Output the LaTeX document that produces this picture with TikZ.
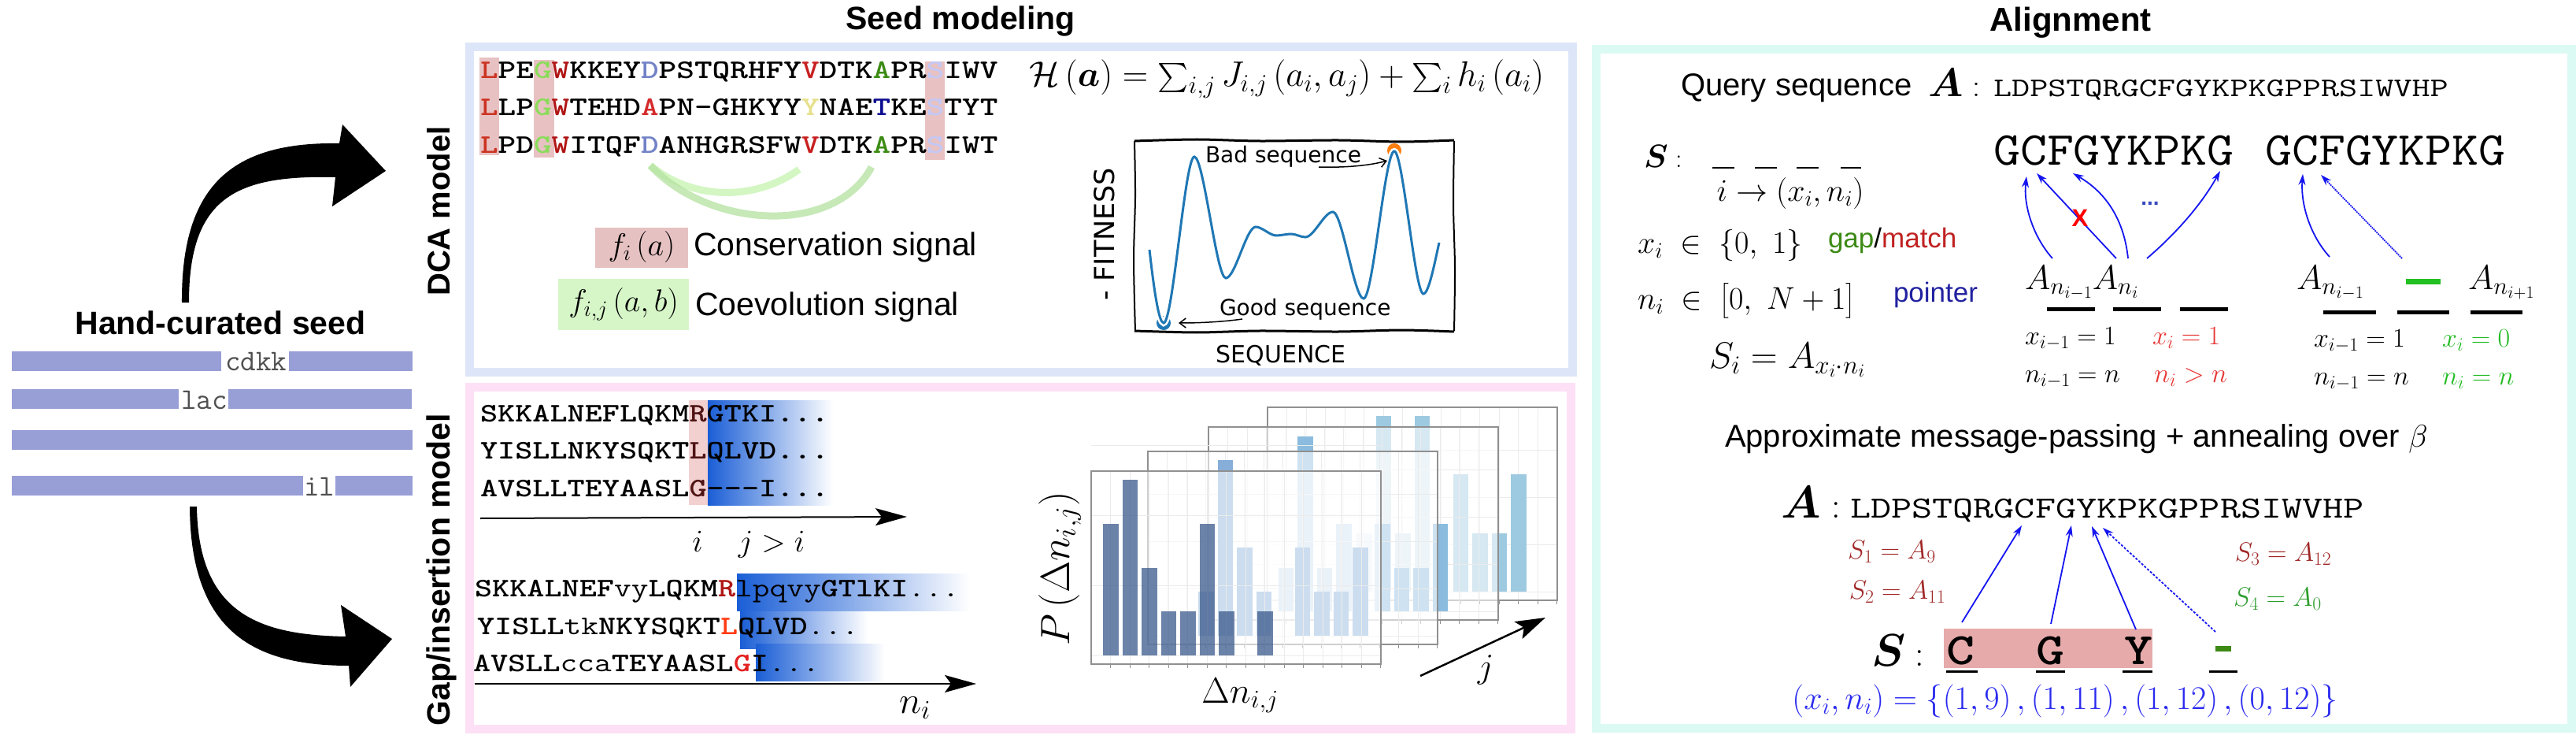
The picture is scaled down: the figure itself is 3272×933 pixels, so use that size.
\RequirePackage{fix-cm}
\documentclass[tikz,border=0pt]{standalone}
\usepackage{exscale}
\usepackage{amsmath}
\usepackage{graphicx}
\usepackage{fontspec}
\usetikzlibrary{arrows.meta}
\newfontfamily\lsans{Liberation Sans}
\newfontfamily\djv{DejaVu Sans}
\newcommand\fsz[1]{\fontsize{#1}{#1}\selectfont}
\newcommand\bigsum{\mathop{\vcenter{\hbox{\scalebox{3.7}{\fontsize{10}{10}\selectfont$\sum$}}}}\nolimits}
\definecolor{dcab}{HTML}{DDE6F9}
\definecolor{gapb}{HTML}{FDE0F5}
\definecolor{alnb}{HTML}{DCFAF4}
\definecolor{seedc}{HTML}{989ED6}
\definecolor{seedt}{HTML}{505050}
\definecolor{hlpink}{HTML}{E8C2C2}
\definecolor{cL}{HTML}{CC3322}
\definecolor{cG}{HTML}{8ADC5A}
\definecolor{cW}{HTML}{B01515}
\definecolor{cD}{HTML}{7282C6}
\definecolor{cV}{HTML}{C82020}
\definecolor{cA}{HTML}{3C8C14}
\definecolor{cS}{HTML}{C4C8F6}
\definecolor{cAr}{HTML}{D42A2A}
\definecolor{cY}{HTML}{E6E08A}
\definecolor{cT}{HTML}{0A0A90}
\definecolor{arcA}{HTML}{CCF5B8}
\definecolor{arcB}{HTML}{B4E2A0}
\definecolor{fibox}{HTML}{E6C1C1}
\definecolor{fijbox}{HTML}{D6F6C8}
\definecolor{mplblue}{HTML}{1F77B4}
\definecolor{mplorange}{HTML}{FF7F0E}
\definecolor{gblue}{HTML}{1A5ED6}
\definecolor{gpink}{HTML}{F2D0D0}
\definecolor{hr}{HTML}{501414}
\definecolor{rA}{HTML}{B01818}
\definecolor{rB}{HTML}{FF3A10}
\definecolor{rC}{HTML}{E42020}
\definecolor{fAc}{HTML}{3A5A8C}
\definecolor{fBc}{HTML}{86AED9}
\definecolor{fCc}{HTML}{8BBCDF}
\definecolor{fDc}{HTML}{9ECAE1}
\definecolor{gridc}{HTML}{EBEBEB}
\definecolor{framec}{HTML}{909090}
\definecolor{abl}{HTML}{1515F0}
\definecolor{gapg}{HTML}{3C8A14}
\definecolor{matchr}{HTML}{C02222}
\definecolor{ptrb}{HTML}{2222A0}
\definecolor{eqr}{HTML}{E83535}
\definecolor{eqg}{HTML}{22BB22}
\definecolor{dashg}{HTML}{22C022}
\definecolor{sred}{HTML}{A02828}
\definecolor{sgreen}{HTML}{2E9E2E}
\definecolor{cgyb}{HTML}{E6AAAA}
\definecolor{dotc}{HTML}{3A4AC0}
\definecolor{xblue}{HTML}{2A2AF0}
\tikzset{
  aarrow/.style={abl, line width=1.8pt, -{Stealth[length=14pt,width=9pt]}},
  bigtip/.style={line width=2pt, -{Stealth[length=40pt,width=22pt,inset=8pt]}},
  xkcdarrow/.style={line width=1.5pt, -{Straight Barb[length=8pt,width=12pt]}},
}
\newcommand\barframe[5]{%
 \fill[white,fill opacity=.58] (#1,#2) rectangle ++(368,245);
 \foreach \k in {0,...,14} \draw[gridc, line width=1pt] ({#1+24.75+24.5*\k},#2) -- ++(0,245);
 \foreach \j in {0,1,2,3} \draw[gridc, line width=1pt] (#1,{#2+234-\j*#3}) -- ++(368,0);
 \foreach \k/\t in {#5} \fill[#4] ({#1+15+24.5*\k},\t) rectangle ({#1+34.5+24.5*\k},{#2+234});
 \draw[framec, line width=1.5pt] (#1,#2) rectangle ++(368,245);
 \foreach \k in {0,...,14} \draw[framec, line width=1pt] ({#1+24.75+24.5*\k},{#2+245}) -- ++(0,5);
}
\begin{document}
\begin{tikzpicture}[x=1pt,y=-1pt, every node/.style={inner sep=0pt, outer sep=0pt}]
\useasboundingbox (0,0) rectangle (3272,933);
\fill[white] (0,0) rectangle (3272,933);

% ---------- titles ----------
\node[anchor=base, font=\lsans\bfseries\fsz{41}] (tseed) at (1220,38) {Seed modeling};
\node[anchor=base, font=\lsans\bfseries\fsz{42}] (taln) at (2630,40) {Alignment};

% ---------- panel frames ----------
\draw[dcab, line width=11pt] (596,60) rectangle (1997,472);
\draw[gapb, line width=11pt] (596,491) rectangle (1995,925);
\draw[alnb, line width=11pt] (2027,63) rectangle (3266,924);

\node[anchor=base, rotate=90, font=\lsans\bfseries\fsz{40}] (dcal) at (571,268) {DCA model};
\node[anchor=base, rotate=90, font=\lsans\bfseries\fsz{41}] (gapl) at (571,723) {Gap/insertion model};

% ---------- seed ----------
\node[anchor=base, font=\lsans\bfseries\fsz{41}] (seedt) at (280,424) {Hand-curated seed};
\fill[seedc] (15,446) rectangle (281,471);
\fill[seedc] (367,446) rectangle (524,471);
\node[anchor=base west, font=\ttfamily\fsz{38}, text=seedt] (s1) at (286,470) {cdkk};
\fill[seedc] (15,494) rectangle (227,519);
\fill[seedc] (290,494) rectangle (523,519);
\node[anchor=base west, font=\ttfamily\fsz{38}, text=seedt] (s2) at (230,519) {lac};
\fill[seedc] (15,546) rectangle (524,571);
\fill[seedc] (15,604) rectangle (385,629);
\fill[seedc] (426,604) rectangle (524,629);
\node[anchor=base west, font=\ttfamily\fsz{38}, text=seedt] (s4) at (386,629) {il};

% big curved arrows
\fill[black] (240,384) -- (231,384) .. controls (230,230) and (300,180) .. (431,182)
  -- (435,158) -- (490,217) -- (422,262) -- (426,225)
  .. controls (300,222) and (240,250) .. (240,384) -- cycle;
\fill[black] (241,643) .. controls (242,800) and (320,845) .. (443,845)
  -- (445,872) -- (498,811) -- (433,768) -- (439,808)
  .. controls (330,806) and (252,780) .. (250,643) -- cycle;

% ---------- DCA panel ----------
\fill[hlpink] (609,73) rectangle (634,197);
\fill[hlpink] (678,76) rectangle (704,200);
\fill[hlpink] (1175,78) rectangle (1200,203);
\node[anchor=base west] (d1) at (610,100) {\scalebox{1.27}[1]{\ttfamily\bfseries\fsz{34}\textcolor{cL}{L}PE\textcolor{cG}{G}\textcolor{cW}{W}KKEY\textcolor{cD}{D}PSTQRHFY\textcolor{cV}{V}DTK\textcolor{cA}{A}PR\textcolor{cS}{S}IWV}};
\node[anchor=base west] (d2) at (610,147) {\scalebox{1.27}[1]{\ttfamily\bfseries\fsz{34}\textcolor{cL}{L}LP\textcolor{cG}{G}\textcolor{cW}{W}TEHD\textcolor{cAr}{A}PN-GHKYY\textcolor{cY}{Y}NAE\textcolor{cT}{T}KE\textcolor{cS}{S}TYT}};
\node[anchor=base west] (d3) at (610,195) {\scalebox{1.27}[1]{\ttfamily\bfseries\fsz{34}\textcolor{cL}{L}PD\textcolor{cG}{G}\textcolor{cW}{W}ITQF\textcolor{cD}{D}ANHGRSFW\textcolor{cV}{V}DTK\textcolor{cA}{A}PR\textcolor{cS}{S}IWT}};
\coordinate (arcs) at (826,210);
\coordinate (arce1) at (1015,215);
\coordinate (arce2) at (1107,212);
\draw[arcA, line width=9pt, opacity=.85] (arcs) .. controls (880,255) and (960,255) .. (arce1);
\draw[arcB, line width=9pt, opacity=.75] (arcs) .. controls (900,290) and (1060,300) .. (arce2);

\fill[fibox] (756,289) rectangle (874,340);
\node[font=\fsz{40}] (fi) at (815,314) {$f_i\left(a\right)$};
\node[anchor=base west, font=\lsans\fsz{41}] (cons) at (881,325) {Conservation signal};
\fill[fijbox] (709,354) rectangle (875,419);
\node[font=\fsz{40}] (fij) at (792,386) {$f_{i,j}\left(a,b\right)$};
\node[anchor=base west, font=\lsans\fsz{41}] (coev) at (883,400) {Coevolution signal};

\node[anchor=base west, font=\fsz{45}] (ham) at (1307,110) {$\mathcal{H}\left(\boldsymbol{a}\right)=\bigsum_{i,j}J_{i,j}\left(a_i,a_j\right)+\bigsum_i h_i\left(a_i\right)$};

% fitness landscape
\draw[line width=3pt] plot[smooth] coordinates {(1441,179) (1520,177) (1600,179) (1700,178) (1780,180) (1847,178)};
\draw[line width=3pt] plot[smooth] coordinates {(1441,420) (1520,422) (1600,420) (1700,421) (1780,419) (1847,421)};
\draw[line width=2pt] plot[smooth] coordinates {(1441,179) (1442,250) (1440,330) (1442,420)};
\draw[line width=2pt] plot[smooth] coordinates {(1847,179) (1846,260) (1848,340) (1847,420)};
\fill[mplorange] (1771,191) circle (9);
\fill[mplblue] (1478,410) circle (9);
\draw[mplblue, line width=3pt, preaction={draw, white, line width=8pt}]
 (1460,317) .. controls (1466,370) and (1472,410) .. (1478,410)
 .. controls (1490,410) and (1505,199) .. (1517,199)
 .. controls (1529,199) and (1545,353) .. (1557,353)
 .. controls (1569,353) and (1583,288) .. (1595,288)
 .. controls (1603,288) and (1613,299) .. (1621,299)
 .. controls (1627,299) and (1634,297) .. (1640,297)
 .. controls (1646,297) and (1652,301) .. (1658,301)
 .. controls (1669,301) and (1682,269) .. (1693,269)
 .. controls (1705,269) and (1720,379) .. (1732,379)
 .. controls (1744,379) and (1759,192) .. (1771,192)
 .. controls (1782,192) and (1797,373) .. (1808,373)
 .. controls (1815,373) and (1823,330) .. (1828,308);
\node[anchor=base west, font=\djv\fsz{28}] (bad) at (1531,207) {Bad sequence};
\node[anchor=base west, font=\djv\fsz{28}] (good) at (1549,400) {Good sequence};
\coordinate (badtail) at (1675,212);
\coordinate (badtip) at (1762,204);
\coordinate (goodtail) at (1578,405);
\coordinate (goodtip) at (1497,410);
\draw[xkcdarrow] (badtail) .. controls (1710,213) and (1740,210) .. (badtip);
\draw[xkcdarrow] (goodtail) .. controls (1550,409) and (1520,410) .. (goodtip);
\node[rotate=90, font=\djv\fsz{35}] (fit) at (1403,297) {- FITNESS};
\node[font=\djv\fsz{30}] (seqx) at (1627,451) {SEQUENCE};

% ---------- gap / insertion panel ----------
\fill[gpink] (875,508) rectangle (899,641);
\shade[left color=gblue, middle color=gblue!55, right color=white] (899,508) rectangle (1058,641);
\node[anchor=base west] (g1) at (610,535) {\scalebox{1.24}[1]{\ttfamily\bfseries\fsz{34}SKKALNEFLQKM\textcolor{hr}{R}GTKI...}};
\node[anchor=base west] (g2) at (610,582) {\scalebox{1.24}[1]{\ttfamily\bfseries\fsz{34}YISLLNKYSQKT\textcolor{hr}{L}QLVD...}};
\node[anchor=base west] (g3) at (610,630) {\scalebox{1.24}[1]{\ttfamily\bfseries\fsz{34}AVSLLTEYAASL\textcolor{hr}{G}-{}-{}-I...}};
\coordinate (ax1s) at (610,658);
\coordinate (ax1e) at (1152,656);
\draw[bigtip] (ax1s) -- (ax1e);
\node[anchor=base, font=\fsz{40}] (li) at (886,700) {$i$};
\node[anchor=base, font=\fsz{40}] (lj) at (980,700) {$j>i$};

\shade[left color=gblue, middle color=gblue!60, right color=white] (936,728) rectangle (1232,775);
\shade[left color=gblue, middle color=gblue!55, right color=white] (940,776) rectangle (1102,823);
\shade[left color=gblue, middle color=gblue!55, right color=white] (960,817) rectangle (1124,864);
\node[anchor=base west] (h1) at (603,757) {\scalebox{1.24}[1]{\ttfamily\bfseries\fsz{34}SKKALNEF{\mdseries vy}LQKM\textcolor{rA}{R}{\mdseries lpqvy}GTlKI{\mdseries ...}}};
\node[anchor=base west] (h2) at (606,805) {\scalebox{1.24}[1]{\ttfamily\bfseries\fsz{34}YISLL{\mdseries tk}NKYSQKT\textcolor{rB}{L}QLVD{\mdseries ...}}};
\node[anchor=base west] (h3) at (601,852) {\scalebox{1.24}[1]{\ttfamily\bfseries\fsz{34}AVSLL{\mdseries cca}TEYAASL\textcolor{rC}{G}I{\mdseries ...}}};
\coordinate (ax2s) at (603,868);
\coordinate (ax2e) at (1240,868);
\draw[bigtip] (ax2s) -- (ax2e);
\node[anchor=base, font=\fsz{48}] (lni) at (1162,905) {$n_i$};

% bar plots (back to front)
\barframe{1610}{517}{60}{fDc}{4/677,5/528,6/677,7/528,9/602,10/677,11/677,12/602}
\barframe{1535}{542}{60}{fCc}{3/721,4/554,5/721,6/665,8/665,9/721,10/721,11/665}
\barframe{1458}{573}{60}{fBc}{2/751,3/584,4/695,5/751,7/695,8/751,9/751,10/695}
\barframe{1386}{598}{89}{fAc,fill opacity=.75}{0/665,1/609,2/721,3/776,4/776,5/665,6/776,8/776}
\node[rotate=90, font=\fsz{52}] (pl) at (1346,722) {$P\left(\Delta n_{i,j}\right)$};
\node[anchor=base, font=\fsz{46}] (dl) at (1575,892) {$\Delta n_{i,j}$};
\coordinate (js) at (1804,858);
\coordinate (je) at (1963,784);
\draw[line width=2.5pt, -{Stealth[length=38pt,width=24pt,inset=8pt]}] (js) -- (je);
\node[anchor=base, font=\fsz{44}] (jl) at (1887,860) {$j$};

% ---------- alignment panel ----------
\node[anchor=base west, font=\lsans\fsz{40}] (qs) at (2135,122) {Query sequence};
\node[anchor=base west, font=\fsz{51}] (qA) at (2449,123) {$\boldsymbol{A}$};
\node[anchor=base west, font=\fsz{40}] (qc) at (2505,123) {:};
\node[anchor=base west] (qseq) at (2532,123) {\scalebox{1.32}[1]{\ttfamily\fsz{34}LDPSTQRGCFGYKPKGPPRSIWVHP}};

\node[anchor=base west, font=\fsz{41}] (Sl) at (2088,213) {$\boldsymbol{S}$};
\node[anchor=base west, font=\fsz{34}] (Sc) at (2128,213) {:};
\foreach \a/\b in {2175/2203,2229/2257,2282/2310,2338/2364} \draw[line width=2pt] (\a,213) -- (\b,213);
\node[font=\fsz{40}] (imap) at (2274,246) {$i\rightarrow\left(x_i,n_i\right)$};
\node[anchor=base west, font=\fsz{40}] (xdef) at (2080,322) {$x_i\;\in\;\left\{0,\ 1\right\}$};
\node[anchor=base west, font=\lsans\fsz{35}] (gm) at (2322,315) {\textcolor{gapg}{gap}/\textcolor{matchr}{match}};
\node[anchor=base west, font=\fsz{40}] (ndef) at (2080,392) {$n_i\;\in\;\bigl[0,\ N+1\bigr]$};
\node[anchor=base west, font=\lsans\fsz{35}, text=ptrb] (ptr) at (2405,383) {pointer};
\node[anchor=base west, font=\fsz{47}] (sdef) at (2171,467) {$S_i=A_{x_i\cdot n_i}$};

\node[anchor=base west] (gc1) at (2532,210) {\scalebox{1.1}[1]{\ttfamily\fsz{60}GCFGYKPKG}};
\node[anchor=base west] (gc2) at (2877,210) {\scalebox{1.1}[1]{\ttfamily\fsz{60}GCFGYKPKG}};

\coordinate (u1t) at (2607,328); \coordinate (u1h) at (2574,224);
\coordinate (u2t) at (2688,328); \coordinate (u2h) at (2587,220);
\coordinate (u3t) at (2703,328); \coordinate (u3h) at (2633,220);
\coordinate (u4t) at (2727,328); \coordinate (u4h) at (2820,217);
\coordinate (u5t) at (2959,326); \coordinate (u5h) at (2925,221);
\coordinate (u6t) at (3051,328); \coordinate (u6h) at (2948,222);
\draw[aarrow] (u1t) .. controls (2582,300) and (2570,260) .. (u1h);
\draw[aarrow] (u2t) -- (u2h);
\draw[aarrow] (u3t) .. controls (2698,280) and (2676,245) .. (u3h);
\draw[aarrow] (u4t) .. controls (2760,300) and (2795,262) .. (u4h);
\draw[aarrow] (u5t) .. controls (2935,300) and (2922,260) .. (u5h);
\draw[aarrow, densely dotted] (u6t) -- (u6h);
\node[font=\lsans\bfseries\fsz{31}, text=red] (xx) at (2642,277) {X};
\node[font=\lsans\bfseries\fsz{28}, text=dotc] (ell) at (2731,258) {...};

\node[anchor=base west, font=\fsz{44}] (an1) at (2572,367) {$A_{n_{i-1}}A_{n_i}$};
\foreach \a/\b in {2600/2661,2684/2745,2769/2830} \draw[line width=5pt] (\a,392) -- (\b,392);
\node[anchor=base west, font=\fsz{34}] (e1) at (2572,437) {$x_{i-1}=1$};
\node[anchor=base west, font=\fsz{34}, text=eqr] (e1r) at (2734,437) {$x_i=1$};
\node[anchor=base west, font=\fsz{34}] (e2) at (2572,485) {$n_{i-1}=n$};
\node[anchor=base west, font=\fsz{34}, text=eqr] (e2r) at (2736,485) {$n_i>n$};

\node[anchor=base west, font=\fsz{44}] (an2) at (2917,367) {$A_{n_{i-1}}$};
\fill[dashg] (3056,354) rectangle (3100,361);
\node[anchor=base west, font=\fsz{44}] (an3) at (3135,367) {$A_{n_{i+1}}$};
\foreach \a/\b in {2951/3018,3045/3111,3138/3204} \draw[line width=5pt] (\a,396) -- (\b,396);
\node[anchor=base west, font=\fsz{34}] (e3) at (2939,440) {$x_{i-1}=1$};
\node[anchor=base west, font=\fsz{34}, text=eqg] (e3g) at (3102,440) {$x_i=0$};
\node[anchor=base west, font=\fsz{34}] (e4) at (2939,488) {$n_{i-1}=n$};
\node[anchor=base west, font=\fsz{34}, text=eqg] (e4g) at (3102,488) {$n_i=n$};

\node[anchor=base west, font=\lsans\fsz{40}] (amp) at (2191,567) {Approximate message-passing + annealing over $\beta$};

\node[anchor=base west, font=\fsz{58}] (bA) at (2262,657) {$\boldsymbol{A}$};
\node[anchor=base west, font=\fsz{46}] (bAc) at (2326,657) {:};
\node[anchor=base west] (bseq) at (2350,657) {\scalebox{1.3}[1]{\ttfamily\fsz{39}LDPSTQRGCFGYKPKGPPRSIWVHP}};

\node[font=\fsz{34}, text=sred] (s1l) at (2403,700) {$S_1=A_9$};
\node[font=\fsz{34}, text=sred] (s2l) at (2410,751) {$S_2=A_{11}$};
\node[font=\fsz{34}, text=sred] (s3l) at (2900,703) {$S_3=A_{12}$};
\node[font=\fsz{34}, text=sgreen] (s4l) at (2893,760) {$S_4=A_0$};

\fill[cgyb] (2469,798) rectangle (2734,848);
\node[anchor=base west, font=\fsz{58}] (bS) at (2377,845) {$\boldsymbol{S}$};
\node[anchor=base west, font=\fsz{46}] (bSc) at (2432,845) {:};
\node[anchor=base west] (cC) at (2472,843) {\scalebox{1.2}[1]{\ttfamily\bfseries\fsz{57}C}};
\node[anchor=base west] (cG) at (2586,843) {\scalebox{1.2}[1]{\ttfamily\bfseries\fsz{57}G}};
\node[anchor=base west] (cY) at (2698,843) {\scalebox{1.2}[1]{\ttfamily\bfseries\fsz{57}Y}};
\fill[gapg] (2814,820) rectangle (2834,827);
\foreach \a/\b in {2472/2512,2586/2623,2696/2734,2806/2842} \draw[line width=3pt] (\a,852) -- (\b,852);

\coordinate (l1t) at (2492,790); \coordinate (l1h) at (2568,667);
\coordinate (l2t) at (2605,792); \coordinate (l2h) at (2631,667);
\coordinate (l3t) at (2713,799); \coordinate (l3h) at (2657,668);
\coordinate (l4t) at (2814,802); \coordinate (l4h) at (2671,670);
\draw[aarrow] (l1t) -- (l1h);
\draw[aarrow] (l2t) -- (l2h);
\draw[aarrow] (l3t) -- (l3h);
\draw[aarrow, densely dashed] (l4t) -- (l4h);

\node[font=\fsz{42}, text=xblue] (xn) at (2623,890) {$\left(x_i,n_i\right)=\left\{\left(1,9\right),\left(1,11\right),\left(1,12\right),\left(0,12\right)\right\}$};
\end{tikzpicture}
\end{document}
